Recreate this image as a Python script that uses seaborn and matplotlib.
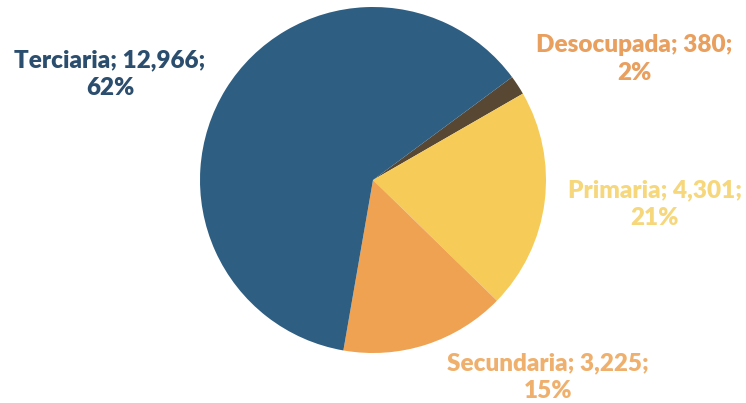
import matplotlib
matplotlib.use("Agg")
import seaborn as sns
import matplotlib.pyplot as plt

# data
categorias = ["Desocupada", "Primaria", "Secundaria", "Terciaria"]
valores = [380, 4301, 3225, 12966]
etiquetas_valor = ["380", "4,301", "3,225", "12,966"]

colores = ["#584833", "#F6CB58", "#EFA252", "#2E5E82"]
colores_texto = ["#E99F5E", "#F6D77C", "#EFB06E", "#2C4E6E"]
# label centres, in pie radius units
pos_texto = [(1.51, 0.70), (1.63, -0.14), (1.01, -1.14), (-1.52, 0.61)]

sns.set_theme(style="white")
plt.rcParams["font.family"] = ["Lato", "DejaVu Sans"]

fig = plt.figure(figsize=(7.46, 4.03), dpi=100)
cx, cy, r = 373, 180, 173
ax = fig.add_axes([(cx - r) / 746, (403 - cy - r) / 403, 2 * r / 746, 2 * r / 403])

total = sum(valores)
start = 90 - 53.5
ax.pie(valores, colors=colores, startangle=start, counterclock=False,
       wedgeprops=dict(linewidth=0))
ax.set_xlim(-1, 1)
ax.set_ylim(-1, 1)
ax.set_aspect("equal")
ax.axis("off")

for cat, v, lab, col, (x, y) in zip(categorias, valores, etiquetas_valor, colores_texto, pos_texto):
    pct = round(100 * v / total)
    ax.text(x, y, f"{cat}; {lab};\n{pct}%", ha="center", va="center", color=col,
            fontsize=17.5, fontweight="heavy", linespacing=1.3, clip_on=False)

fig.savefig("out.png", dpi=100)
